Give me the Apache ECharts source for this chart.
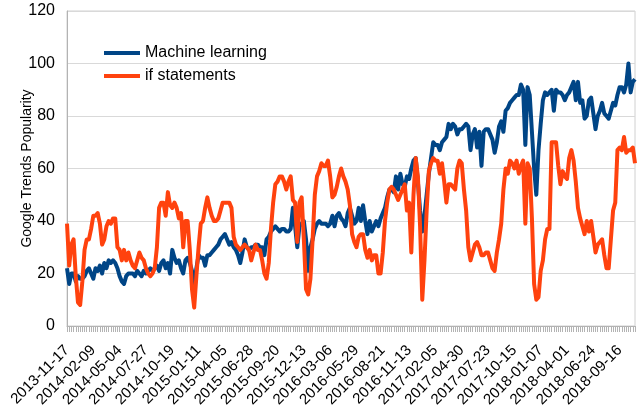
<!DOCTYPE html>
<html>
<head>
<meta charset="utf-8">
<script src="https://cdn.jsdelivr.net/npm/echarts@6/dist/echarts.min.js"></script>
<style>
  html, body { margin: 0; padding: 0; background: #fff; }
  #chart { width: 638px; height: 408px; }
</style>
</head>
<body>
<div id="chart"></div>
<script>
// Weekly Google Trends interest, 5 years starting 2013-11-17
const startDate = '2013-11-17';
const weekCount = 260;

const seriesNames = ['Machine learning', 'if statements'];

const machineLearning = [
  22, 16, 20, 20, 17, 19, 18, 18, 19, 21, 22, 20, 18, 22, 21, 23, 20, 24, 22, 25,
  24, 25, 24, 22, 19, 17, 16, 19, 20, 20, 20, 19, 21, 20, 19, 21, 20, 21, 22, 21,
  22, 23, 21, 24, 25, 22, 24, 20, 29, 26, 24, 25, 22, 20, 25, 26, 24, 21, 15, 22,
  27, 26, 26, 23, 27, 27, 28, 29, 30, 31, 33, 34, 35, 33, 31, 32, 30, 29, 27, 24,
  28, 33, 30, 29, 30, 30, 31, 31, 30, 30, 27, 33, 34, 36, 37, 38, 37, 36, 37, 37,
  36, 36, 37, 45, 38, 30, 38, 39, 40, 33, 21, 30, 33, 37, 39, 40, 39, 39, 39, 38,
  39, 42, 38, 42, 43, 41, 40, 38, 43, 45, 42, 39, 40, 45, 40, 46, 40, 35, 40, 36,
  38, 40, 38, 41, 43, 45, 49, 52, 52, 51, 57, 52, 58, 54, 53, 57, 56, 60, 63, 64,
  55, 44, 36, 42, 50, 58, 64, 70, 69, 69, 67, 70, 71, 72, 77, 75, 77, 76, 73, 75,
  75, 76, 77, 76, 67, 73, 75, 68, 74, 61, 74, 75, 75, 73, 71, 66, 70, 76, 78, 74,
  82, 83, 85, 86, 87, 88, 88, 92, 90, 69, 91, 88, 74, 60, 50, 67, 77, 86, 89, 88,
  89, 90, 82, 90, 89, 89, 88, 86, 88, 89, 91, 93, 86, 93, 85, 86, 79, 80, 86, 87,
  81, 75, 80, 82, 85, 81, 80, 79, 82, 85, 84, 88, 91, 91, 89, 92, 100, 89, 93, 94
];

const ifStatements = [
  39, 23, 31, 33, 19, 9, 8, 17, 29, 33, 33, 37, 42, 42, 43, 39, 31, 33, 38, 40,
  39, 41, 41, 30, 29, 25, 29, 25, 28, 25, 23, 22, 25, 28, 26, 25, 22, 20, 19, 20,
  22, 30, 45, 47, 47, 42, 51, 46, 45, 47, 45, 41, 43, 30, 40, 40, 29, 14, 7, 19,
  30, 39, 40, 45, 49, 45, 42, 40, 40, 41, 44, 47, 47, 47, 47, 45, 34, 31, 30, 29,
  30, 31, 30, 29, 25, 28, 31, 29, 29, 25, 20, 18, 24, 37, 47, 54, 55, 57, 57, 55,
  52, 55, 57, 48, 47, 32, 47, 49, 33, 14, 12, 18, 33, 50, 57, 59, 62, 61, 61, 63,
  57, 49, 50, 53, 57, 60, 57, 55, 52, 46, 35, 32, 30, 34, 35, 35, 29, 26, 29, 25,
  27, 27, 20, 20, 28, 40, 47, 52, 53, 52, 50, 48, 50, 52, 54, 44, 47, 28, 50, 64,
  57, 38, 10, 25, 44, 59, 62, 64, 63, 63, 58, 62, 55, 47, 54, 54, 53, 52, 60, 63,
  62, 52, 44, 30, 25, 28, 31, 32, 30, 27, 27, 28, 28, 25, 22, 21, 28, 33, 39, 52,
  60, 58, 63, 62, 60, 63, 58, 61, 63, 39, 62, 60, 41, 16, 10, 11, 21, 25, 33, 37,
  37, 70, 70, 70, 61, 54, 59, 57, 56, 64, 67, 63, 55, 45, 41, 38, 35, 40, 36, 40,
  34, 28, 31, 32, 33, 27, 22, 22, 33, 44, 47, 67, 68, 67, 72, 66, 67, 67, 68, 62
];

const yTicks = [0, 20, 40, 60, 80, 100, 120];
const labelEvery = 12; // one date label every 12 weeks

// Weekly category labels (YYYY-MM-DD)
function weekLabels(start, n) {
  const out = [];
  const d0 = new Date(start + 'T00:00:00Z');
  for (let i = 0; i < n; i++) {
    const d = new Date(d0.getTime() + i * 7 * 86400000);
    out.push(d.toISOString().slice(0, 10));
  }
  return out;
}
const weeks = weekLabels(startDate, weekCount);

const chart = echarts.init(document.getElementById('chart'), null, { renderer: 'canvas' });
const font = '"Liberation Sans", Arial, sans-serif';

chart.setOption({
  animation: false,
  backgroundColor: '#ffffff',
  color: ['#004586', '#ff420e'],
  grid: {
    left: 67, right: 3, top: 11, bottom: 82,
    outerBoundsMode: 'none',
    containLabel: false,
    show: true, borderColor: '#d0d0d0', borderWidth: 1
  },
  legend: {
    orient: 'vertical',
    left: 99, top: 40,
    itemWidth: 36, itemHeight: 4,
    itemGap: 7,
    icon: 'rect',
    textStyle: { fontFamily: font, fontSize: 16, color: '#000' },
    data: seriesNames
  },
  xAxis: {
    type: 'category',
    data: weeks,
    boundaryGap: false,
    axisLine: { lineStyle: { color: '#b3b3b3' } },
    axisTick: { show: true, interval: 0, length: 6, lineStyle: { color: '#b3b3b3' } },
    axisLabel: {
      interval: labelEvery - 1,
      rotate: 45,
      margin: 22,
      fontFamily: font, fontSize: 15, color: '#000'
    },
    splitLine: { show: false }
  },
  yAxis: {
    type: 'value',
    min: yTicks[0], max: yTicks[yTicks.length - 1], interval: 20,
    name: 'Google Trends Popularity',
    nameLocation: 'middle',
    nameGap: 33,
    nameMoveOverlap: false,
    nameTextStyle: { fontFamily: font, fontSize: 14, color: '#000' },
    axisLine: { show: true, lineStyle: { color: '#b3b3b3' } },
    axisTick: { show: false },
    axisLabel: { margin: 12, fontFamily: font, fontSize: 16, color: '#000' },
    splitLine: { lineStyle: { color: '#d9d9d9', width: 1 } }
  },
  series: [
    {
      name: seriesNames[0], type: 'line', data: machineLearning,
      showSymbol: false, symbol: 'none',
      lineStyle: { width: 4, color: '#004586', join: 'round' }
    },
    {
      name: seriesNames[1], type: 'line', data: ifStatements,
      showSymbol: false, symbol: 'none',
      lineStyle: { width: 4, color: '#ff420e', join: 'round' }
    }
  ]
});
</script>
</body>
</html>
